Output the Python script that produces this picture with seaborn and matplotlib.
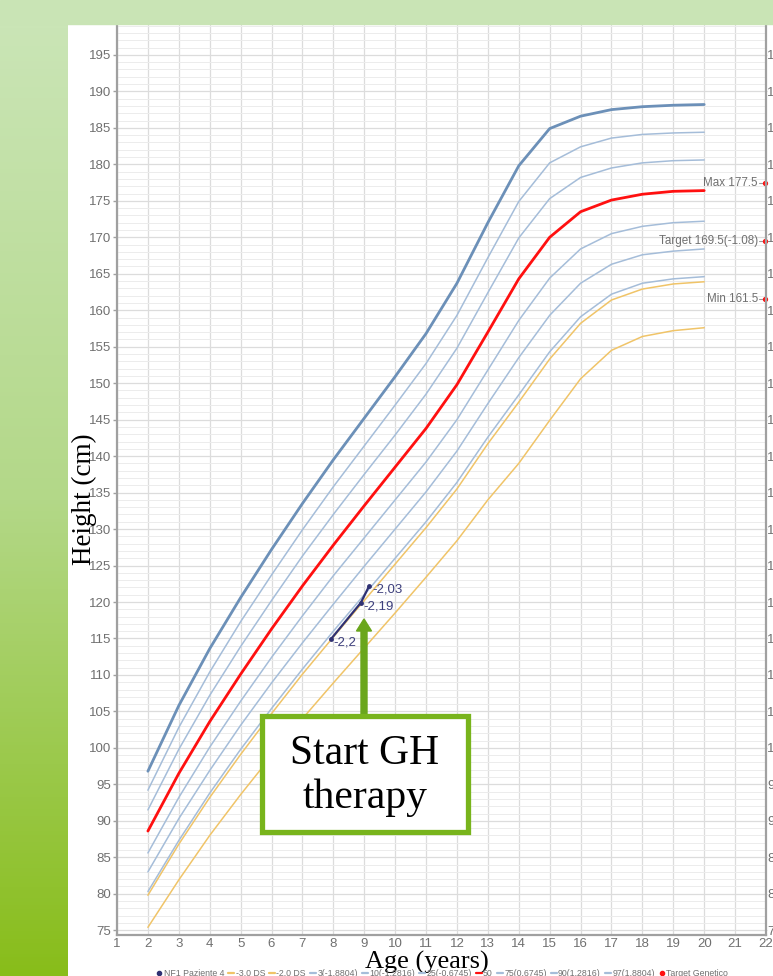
import numpy as np
import pandas as pd
import matplotlib
matplotlib.use("Agg")
import matplotlib.pyplot as plt
import seaborn as sns
from matplotlib.lines import Line2D
from matplotlib.patches import Rectangle, FancyArrow
from matplotlib.colors import LinearSegmentedColormap

# ---------------- data ----------------
ages = [2, 3, 4, 5, 6, 7, 8, 9, 10, 11, 12, 13, 14, 15, 16, 17, 18, 19, 20]
ds_m3 = [75.4, 81.9, 88.0, 93.6, 98.9, 104.0, 108.9, 113.7, 118.5, 123.4, 128.4, 134.0, 139.0, 144.9, 150.6, 154.5, 156.4, 157.2, 157.6]
ds_m2 = [79.8, 86.8, 93.2, 99.1, 104.7, 110.1, 115.2, 120.2, 125.2, 130.2, 135.5, 141.7, 147.4, 153.3, 158.2, 161.4, 162.9, 163.6, 163.9]
p3 = [80.3, 87.3, 93.8, 99.8, 105.4, 110.8, 116.0, 121.0, 126.0, 131.0, 136.4, 142.6, 148.4, 154.3, 159.1, 162.2, 163.7, 164.3, 164.6]
p10 = [83.0, 90.3, 96.9, 103.1, 108.9, 114.4, 119.7, 124.9, 130.0, 135.1, 140.7, 147.2, 153.5, 159.3, 163.7, 166.3, 167.6, 168.1, 168.4]
p25 = [85.6, 93.2, 100.1, 106.4, 112.4, 118.1, 123.6, 128.8, 134.0, 139.2, 145.0, 151.8, 158.6, 164.4, 168.4, 170.5, 171.5, 172.0, 172.2]
p50 = [88.6, 96.5, 103.6, 110.1, 116.3, 122.2, 127.8, 133.2, 138.5, 143.8, 149.8, 157.0, 164.3, 170.0, 173.5, 175.1, 175.9, 176.3, 176.4]
p75 = [91.5, 99.8, 107.2, 113.9, 120.2, 126.3, 132.0, 137.5, 142.9, 148.5, 154.8, 162.4, 169.9, 175.3, 178.2, 179.5, 180.2, 180.5, 180.6]
p90 = [94.2, 102.8, 110.4, 117.3, 123.7, 129.9, 135.8, 141.4, 147.0, 152.7, 159.3, 167.2, 174.9, 180.2, 182.4, 183.6, 184.1, 184.3, 184.4]
p97 = [96.8, 105.8, 113.6, 120.6, 127.2, 133.5, 139.5, 145.2, 150.9, 156.8, 163.7, 172.0, 179.8, 184.9, 186.6, 187.5, 187.9, 188.1, 188.2]

patient_age = [7.92, 8.89, 9.16]
patient_height = [114.9, 119.9, 122.2]
patient_labels = ["-2,2", "-2,19", "-2,03"]

target_values = [177.5, 169.5, 161.5]
target_labels = ["Max 177.5", "Target 169.5(-1.08)", "Min 161.5"]

legend_labels = ["NF1 Paziente 4", "-3.0 DS", "-2.0 DS", "3(-1.8804)", "10(-1.2816)",
                 "25(-0.6745)", "50", "75(0.6745)", "90(1.2816)", "97(1.8804)", "Target Genetico"]

x_ticks = list(range(1, 23))
y_ticks = list(range(75, 200, 5))

# ---------------- style ----------------
sns.set_style("white")
plt.rcParams['font.family'] = ['Liberation Sans', 'DejaVu Sans']

W, H = 773, 976
fig = plt.figure(figsize=(W / 100, H / 100), dpi=100)
fig.patch.set_facecolor('white')

def fx(px):
    return px / W

def fy(py):
    return 1 - py / H

# background decoration
fig.patches.append(Rectangle((0, fy(24)), 1, 24 / H, transform=fig.transFigure,
                             color='#c9e4b5', zorder=0))
gax = fig.add_axes([0, 0, fx(68), fy(24)])
cmap = LinearSegmentedColormap.from_list('g', ['#cae5b6', '#b3d888', '#88bd1a'])
gax.imshow(np.linspace(0, 1, 256).reshape(-1, 1), aspect='auto', cmap=cmap,
           extent=[0, 1, 0, 1], origin='upper')
gax.axis('off')

# main axes
ax = fig.add_axes([fx(117), fy(935), fx(766) - fx(117), (935 - 25) / H])
ax.set_xlim(1, 22)
ax.set_ylim(74.35, 199.1)
ax.set_xticks(x_ticks)
ax.set_yticks(y_ticks)
ax.set_yticks(list(range(75, 200, 1)), minor=True)
ax.grid(which='major', color='#dcdcdc', lw=0.9)
ax.grid(which='minor', axis='y', color='#ececec', lw=0.7)
ax.set_axisbelow(True)
for s in ['left', 'bottom', 'right']:
    ax.spines[s].set_color('#a0a0a0')
    ax.spines[s].set_linewidth(1.6)
ax.spines['top'].set_visible(False)
ax.tick_params(axis='y', which='major', colors='#a0a0a0', labelcolor='#707070',
               labelsize=9.5, length=3, width=1, pad=1)
ax.tick_params(axis='x', which='major', colors='#a0a0a0', labelcolor='#707070',
               labelsize=9.5, length=1.5, width=1, pad=0.5)
ax.tick_params(axis='y', which='minor', length=0)

# right-side duplicate labels (cut off by the figure edge as in the reference)
ax_r = ax.twinx()
ax_r.set_ylim(ax.get_ylim())
ax_r.set_yticks(y_ticks)
ax_r.tick_params(axis='y', colors='#a0a0a0', labelcolor='#707070', labelsize=9.5,
                 length=0.5, pad=0.5)
for s in ax_r.spines.values():
    s.set_visible(False)
ax_r.grid(False)

blue = '#a5bdd9'
orange = '#f0c468'
curves = [
    (ds_m3, orange, 1.1),
    (ds_m2, orange, 1.1),
    (p3, blue, 1.1),
    (p10, blue, 1.1),
    (p25, blue, 1.1),
    (p75, blue, 1.1),
    (p90, blue, 1.1),
    (p97, '#6c90b8', 2.0),
    (p50, '#ff1010', 2.0),
]
for vals, col, lw in curves:
    sns.lineplot(x=ages, y=vals, color=col, linewidth=lw, ax=ax, legend=False)

# patient
navy = '#2f3173'
sns.lineplot(x=patient_age, y=patient_height, color=navy, linewidth=1.6, ax=ax,
             marker='o', markersize=3.5, markeredgewidth=0, legend=False)
for a, h, lab in zip(patient_age, patient_height, patient_labels):
    ax.annotate(lab, (a, h), xytext=(2.0, -2.5), textcoords='offset points',
                ha='left', va='center', fontsize=9.5, color='#3d3f7c')

# target markers at right
for v, lab in zip(target_values, target_labels):
    ax.text(21.74, v, lab, ha='right', va='center', fontsize=8.4, color='#707070')
    ax.plot([21.76, 21.92], [v, v], color='#9a9a9a', lw=0.8, clip_on=False)
    ax.plot([21.96], [v], marker='o', color='#ff1010', markersize=2.8, clip_on=False)

ax.set_xlabel('')
ax.set_ylabel('')

# axis titles
fig.text(fx(84), fy(499), 'Height (cm)', rotation=90, ha='center', va='center',
         fontsize=19.5, family=['Liberation Serif', 'DejaVu Serif'], color='black')
fig.text(fx(427), fy(962), 'Age (years)', ha='center', va='center',
         fontsize=19, family=['Liberation Serif', 'DejaVu Serif'], color='black')

# legend (cut off at bottom)
handles = [Line2D([], [], color=navy, marker='o', ls='none', markersize=3)]
lcols = [orange, orange, blue, blue, blue, '#ff1010', blue, blue, blue]
for c in lcols:
    handles.append(Line2D([], [], color=c, lw=1.6))
handles.append(Line2D([], [], color='#ff1010', marker='o', ls='none', markersize=3))
fig.legend(handles, legend_labels, loc='center', bbox_to_anchor=(0.572, 2.0 / H),
           ncol=len(legend_labels), frameon=False, fontsize=6.3, handlelength=0.7,
           handletextpad=0.15, columnspacing=0.45, labelcolor='#707070')

# overlay for annotation box and arrow
ov = fig.add_axes([0, 0, 1, 1], zorder=10)
ov.set_xlim(0, W)
ov.set_ylim(H, 0)
ov.axis('off')
ov.patch.set_alpha(0)
ov.add_patch(FancyArrow(364, 716, 0, -97, width=6, head_width=15, head_length=12,
                        length_includes_head=True, color='#6aa61c', zorder=3))
ov.add_patch(Rectangle((262, 716), 206, 116, facecolor='white', edgecolor='#78b41c',
                       lw=3.8, zorder=4))
ov.text(365, 776, 'Start GH\ntherapy', ha='center', va='center', fontsize=30,
        family=['Liberation Serif', 'DejaVu Serif'], color='black', linespacing=1.2,
        zorder=5)

fig.savefig('out.png', dpi=100)
